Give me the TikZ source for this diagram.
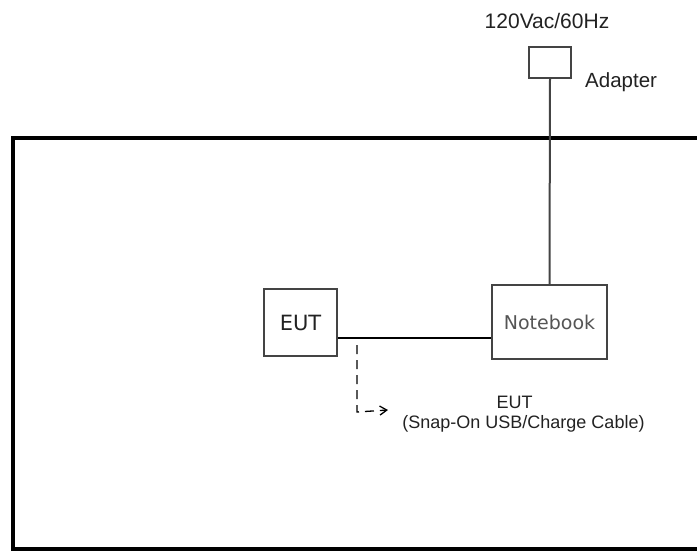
\documentclass[tikz,border=0pt]{standalone}
\usepackage{fontspec}
\setmainfont{Liberation Sans}
\newfontfamily\boxfont{DejaVu Sans}
\usetikzlibrary{arrows.meta}
\definecolor{txt}{HTML}{222222}
\definecolor{boxline}{HTML}{444444}
\definecolor{nbtext}{HTML}{555555}
\begin{document}
\begin{tikzpicture}[x=1pt,y=-1pt,
  devbox/.style={draw=boxline,line width=1.6pt,fill=white,inner sep=0pt},
  lbl/.style={inner sep=0pt,text=txt},
  wire/.style={line width=1.3pt,black},
  frame/.style={line width=4pt,black,line join=miter}]
\useasboundingbox (0,0) rectangle (697,552);
% frame
\draw[frame] (700,137.5) -- (12.5,137.5) -- (12.5,548.5) -- (700,548.5);
% boxes
\node[devbox,minimum width=42pt,minimum height=31pt] (adapter) at (550,62.5) {};
\node[devbox,minimum width=115pt,minimum height=74pt,font=\boxfont\fontsize{19}{22}\selectfont,text=nbtext] (notebook) at (549.5,322) {Notebook};
\node[devbox,minimum width=73pt,minimum height=67pt,font=\boxfont\fontsize{21}{24}\selectfont,text=txt] (eut) at (300.5,322.5) {EUT};
% adapter line
\draw[line width=2pt,boxline] (adapter.south) -- (notebook.north);
% cable
\draw[wire] ([yshift=-15.5pt]eut.east) -- ([yshift=-15.5pt]eut.east -| notebook.west);
% dashed pointer
\coordinate (dstart) at (357,345);
\coordinate (dcorner) at (357,412);
\coordinate (dend) at (388,410);
\draw[line width=1.3pt,dash pattern=on 9pt off 6pt,-{Straight Barb[length=7pt,width=9pt]}] (dstart) -- (dcorner) -- (dend);
% labels
\node[lbl,anchor=base,font=\fontsize{21}{24}\selectfont] (mains) at (547,28) {120Vac/60Hz};
\node[lbl,anchor=base west,font=\fontsize{20.5}{24}\selectfont] (adlbl) at (585,87) {Adapter};
\node[lbl,anchor=base,font=\fontsize{18}{21}\selectfont] (eutlbl) at (514.5,408) {EUT};
\node[lbl,anchor=base,font=\fontsize{18}{21}\selectfont] (cablelbl) at (523.5,428) {(Snap-On USB/Charge Cable)};
\end{tikzpicture}
\end{document}
